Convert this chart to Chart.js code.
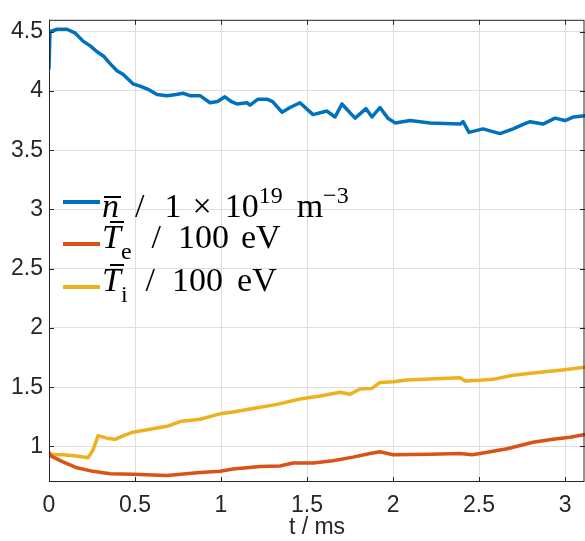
<!DOCTYPE html>
<html>
<head>
<meta charset="utf-8">
<script src="https://cdn.jsdelivr.net/npm/chart.js@4.4.1/dist/chart.umd.min.js"></script>
<style>
    body { margin: 0; background: #fff; }
    #wrap { position: relative; width: 585px; height: 541px; }
    #chart { position: absolute; left: 0; top: 0; }
    .row { position: absolute; left: 0; width: 585px; height: 40px; }
    .sample { position: absolute; left: 63px; width: 37px; height: 4px; }
    .txt {
        position: absolute; left: 102px;
        font-family: "Liberation Serif", "Times New Roman", serif;
        font-size: 34px; line-height: 34px; color: #000; white-space: pre;
    }
    .v { position: relative; font-style: italic; }
    .v::before { content: ''; position: absolute; height: 2px; background: #000; }
    .vn::before { left: 2px; right: -2px; top: 9px; }
    .vt::before { left: 8px; right: -3px; top: 3px; }
    .sub { font-size: 24px; vertical-align: -11px; }
    .sup { font-size: 24px; vertical-align: 14px; }
</style>
</head>
<body>
<div id="wrap">
    <canvas id="chart" width="585" height="541"></canvas>

    <div class="row" style="top:0">
        <div class="sample" style="top:200px;background:#0072BD"></div>
        <div class="txt" style="top:178px"><span class="v vn">n</span><span style="margin-left:16px">/</span><span style="margin-left:20px">1</span><span style="margin-left:11px">×</span><span style="margin-left:13px">10</span><span class="sup">19</span><span style="margin-left:14px">m</span><span class="sup">−3</span></div>
    </div>
    <div class="row" style="top:0">
        <div class="sample" style="top:242px;background:#D95319"></div>
        <div class="txt" style="top:220px"><span class="v vt">T</span><span class="sub">e</span><span style="margin-left:20px">/</span><span style="margin-left:17px">100</span><span style="margin-left:12px">eV</span></div>
    </div>
    <div class="row" style="top:0">
        <div class="sample" style="top:285px;background:#EDB120"></div>
        <div class="txt" style="top:263px"><span class="v vt">T</span><span class="sub">i</span><span style="margin-left:18px">/</span><span style="margin-left:17px">100</span><span style="margin-left:14px">eV</span></div>
    </div>
</div>

<script>
// time axis in ms, one array per series
const tDensity = [0, 0.006, 0.047, 0.105, 0.15, 0.198, 0.24, 0.279, 0.32, 0.355, 0.395, 0.43, 0.488, 0.529, 0.58,
    0.628, 0.686, 0.74, 0.779, 0.82, 0.878, 0.936, 0.98, 1.023, 1.06, 1.093, 1.151, 1.169, 1.215, 1.267, 1.3,
    1.355, 1.401, 1.459, 1.535, 1.616, 1.663, 1.703, 1.779, 1.843, 1.878, 1.924, 1.97, 2.012, 2.099, 2.215,
    2.39, 2.407, 2.442, 2.523, 2.622, 2.698, 2.76, 2.797, 2.872, 2.942, 3.0, 3.05, 3.116];
const density = [4.19, 4.50, 4.52, 4.52, 4.49, 4.42, 4.38, 4.33, 4.29, 4.23, 4.17, 4.14, 4.06, 4.04, 4.01,
    3.97, 3.96, 3.97, 3.98, 3.96, 3.96, 3.90, 3.91, 3.95, 3.91, 3.89, 3.90, 3.88, 3.93, 3.93, 3.91,
    3.82, 3.86, 3.90, 3.80, 3.83, 3.78, 3.89, 3.77, 3.85, 3.78, 3.86, 3.77, 3.73, 3.75, 3.73,
    3.72, 3.74, 3.65, 3.68, 3.64, 3.68, 3.72, 3.74, 3.72, 3.77, 3.75, 3.78, 3.79];

const tElectron = [0, 0.01, 0.081, 0.163, 0.256, 0.355, 0.488, 0.686, 0.878, 0.994, 1.07, 1.227, 1.343, 1.419,
    1.535, 1.651, 1.767, 1.866, 1.924, 2.0, 2.215, 2.39, 2.459, 2.506, 2.663, 2.814, 2.93, 3.029, 3.116];
const tempElectron = [0.95, 0.92, 0.87, 0.82, 0.79, 0.77, 0.765, 0.755, 0.78, 0.79, 0.81, 0.83, 0.835, 0.86,
    0.86, 0.88, 0.91, 0.94, 0.955, 0.93, 0.935, 0.94, 0.93, 0.94, 0.98, 1.036, 1.06, 1.077, 1.1];

const tIon = [0, 0.081, 0.163, 0.227, 0.256, 0.285, 0.337, 0.384, 0.43, 0.488, 0.587, 0.686, 0.762, 0.878, 0.994,
    1.07, 1.186, 1.326, 1.459, 1.576, 1.692, 1.75, 1.808, 1.878, 1.924, 2.0, 2.081, 2.215, 2.39, 2.419, 2.506,
    2.581, 2.698, 2.814, 2.971, 3.116];
const tempIon = [0.935, 0.93, 0.92, 0.905, 0.97, 1.09, 1.07, 1.06, 1.09, 1.12, 1.145, 1.17, 1.21, 1.23, 1.275,
    1.29, 1.32, 1.355, 1.40, 1.425, 1.458, 1.44, 1.485, 1.49, 1.54, 1.545, 1.56, 1.57, 1.58, 1.553, 1.558,
    1.566, 1.60, 1.62, 1.643, 1.668];

const xTitle = 't / ms';

function toPoints(xs, ys) {
    return xs.map((x, i) => ({ x: x, y: ys[i] }));
}

// "1" instead of "1.0", like MATLAB
function tickLabel(value) {
    return String(Math.round(value * 10) / 10);
}

// MATLAB-style box with inward ticks
const boxPlugin = {
    id: 'box',
    afterDraw(chart) {
        const { ctx, chartArea: a, scales } = chart;
        ctx.save();
        ctx.strokeStyle = '#262626';
        ctx.lineWidth = 1;
        ctx.beginPath();
        scales.x.ticks.forEach(t => {
            const px = Math.round(scales.x.getPixelForValue(t.value)) + 0.5;
            ctx.moveTo(px, a.bottom); ctx.lineTo(px, a.bottom - 5);
            ctx.moveTo(px, a.top); ctx.lineTo(px, a.top + 5);
        });
        scales.y.ticks.forEach(t => {
            const py = Math.round(scales.y.getPixelForValue(t.value)) + 0.5;
            ctx.moveTo(a.left, py); ctx.lineTo(a.left + 5, py);
            ctx.moveTo(a.right, py); ctx.lineTo(a.right - 5, py);
        });
        ctx.stroke();
        ctx.strokeRect(a.left + 0.5, a.top + 0.5, a.right - a.left - 1.5, a.bottom - a.top - 1);
        ctx.restore();
    }
};

document.addEventListener('DOMContentLoaded', function() {
    const ctx = document.getElementById('chart').getContext('2d');
    const tickFont = { family: 'Liberation Sans, Arial, sans-serif', size: 23 };

    new Chart(ctx, {
        type: 'line',
        data: {
            datasets: [
                { data: toPoints(tDensity, density), borderColor: '#0072BD', borderWidth: 3.5 },
                { data: toPoints(tElectron, tempElectron), borderColor: '#D95319', borderWidth: 3.5 },
                { data: toPoints(tIon, tempIon), borderColor: '#EDB120', borderWidth: 3.5 }
            ]
        },
        options: {
            responsive: false,
            animation: false,
            parsing: false,
            elements: {
                point: { radius: 0 },
                line: { tension: 0, borderJoinStyle: 'round', borderCapStyle: 'round' }
            },
            layout: { padding: { top: 5, right: 0, left: 0, bottom: 0 } },
            plugins: {
                legend: { display: false },
                tooltip: { enabled: false }
            },
            scales: {
                x: {
                    type: 'linear',
                    min: 0,
                    max: 3.116,
                    grid: { color: '#dedede', drawTicks: false },
                    border: { display: false },
                    ticks: { stepSize: 0.5, includeBounds: false, color: '#262626', font: tickFont, padding: 10,
                        maxRotation: 0, callback: tickLabel },
                    title: { display: true, text: xTitle, color: '#262626', font: tickFont, padding: 0 },
                    afterFit(scale) { scale.height = 59; }
                },
                y: {
                    type: 'linear',
                    min: 0.7,
                    max: 4.6,
                    grid: { color: '#dedede', drawTicks: false },
                    border: { display: false },
                    ticks: { stepSize: 0.5, includeBounds: false, color: '#262626', font: tickFont, padding: 6,
                        callback: tickLabel },
                    afterFit(scale) { scale.width = 49; }
                }
            }
        },
        plugins: [boxPlugin]
    });
});
</script>
</body>
</html>
